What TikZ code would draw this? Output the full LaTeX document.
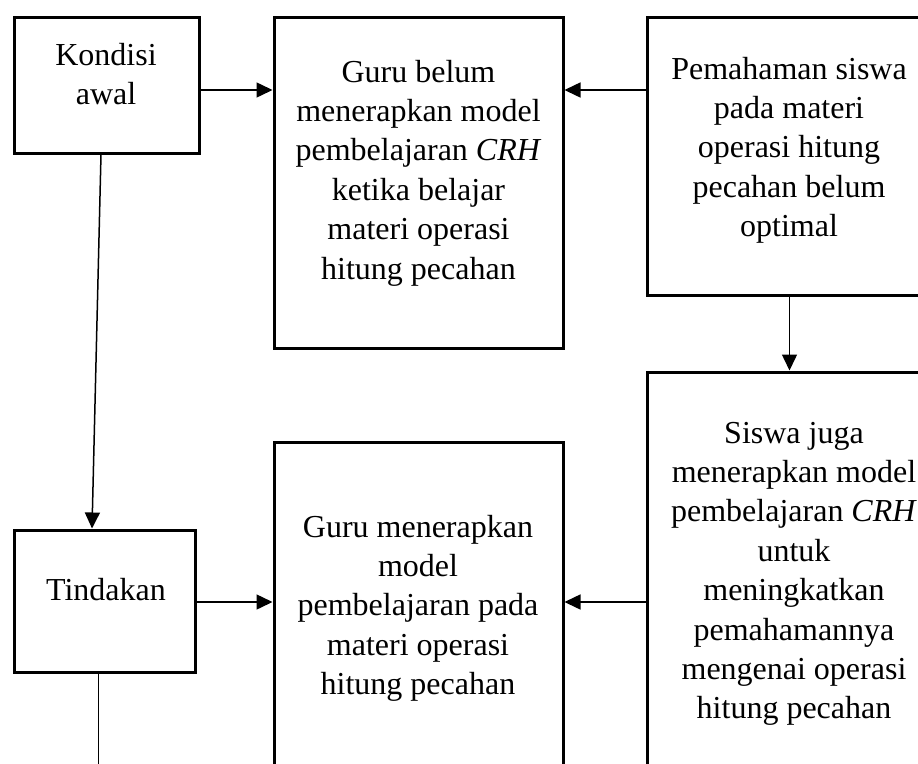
\documentclass[tikz,border=0pt]{standalone}
\usepackage{fontspec}
\setmainfont{Liberation Serif}
\usetikzlibrary{arrows.meta}
\tikzset{
  box/.style={draw, line width=3pt, inner sep=0pt, rectangle},
  txt/.style={align=center, inner sep=0pt, anchor=north, font=\fontsize{32}{39.4}\selectfont},
  arr/.style={line width=1.5pt, -{Triangle[length=16pt,width=15pt]}},
  ln/.style={line width=1.5pt}
}
\begin{document}
\begin{tikzpicture}[x=1pt,y=-1pt]
\useasboundingbox (0,0) rectangle (918,763);
\clip (0,0) rectangle (918,763);
% boxes
\node[box, minimum width=185pt, minimum height=136pt] (A) at (106.5,85) {};
\node[box, minimum width=289pt, minimum height=331pt] (B) at (418.5,182.5) {};
\node[box, minimum width=285pt, minimum height=278pt] (C) at (789.5,156) {};
\node[box, minimum width=294pt, minimum height=428pt] (D) at (794,586) {};
\node[box, minimum width=181pt, minimum height=142pt] (E) at (104.5,601) {};
\node[box, minimum width=289pt, minimum height=358pt] (F) at (418.5,621) {};
% texts
\node[txt] (tA) at (106,37.4) {\strut Kondisi\\awal};
\node[txt] (tB) at (418.5,54.4) {\strut Guru belum\\menerapkan model\\pembelajaran \textit{CRH}\\ketika belajar\\materi operasi\\hitung pecahan};
\node[txt] (tC) at (789,51.4) {\strut Pemahaman siswa\\pada materi\\operasi hitung\\pecahan belum\\optimal};
\node[txt] (tD) at (794,415.4) {\strut Siswa juga\\menerapkan model\\pembelajaran \textit{CRH}\\untuk\\meningkatkan\\pemahamannya\\mengenai operasi\\hitung pecahan};
\node[txt] (tE) at (106,572.4) {\strut Tindakan};
\node[txt] (tF) at (418,509.4) {\strut Guru menerapkan\\model\\pembelajaran pada\\materi operasi\\hitung pecahan};
% connectors
\draw[arr] ([yshift=-5pt]A.east) coordinate (a1) -- (a1 -| B.west);
\draw[arr] ([yshift=-5pt]A.east -| C.west) coordinate (c1) -- (c1 -| B.east);
\draw[arr] (C.south) -- (D.north -| C.south);
\draw[arr] ([xshift=-5.5pt]A.south) -- ([xshift=-12.5pt]E.north);
\draw[arr] ([yshift=-1pt]E.east) coordinate (e1) -- (e1 -| F.west);
\draw[arr] ([yshift=-1pt]E.east -| D.west) coordinate (d1) -- (d1 -| F.east);
\coordinate (bottom) at (98.5,770);
\draw[ln] ([xshift=-6pt]E.south) -- (bottom);
\end{tikzpicture}
\end{document}
